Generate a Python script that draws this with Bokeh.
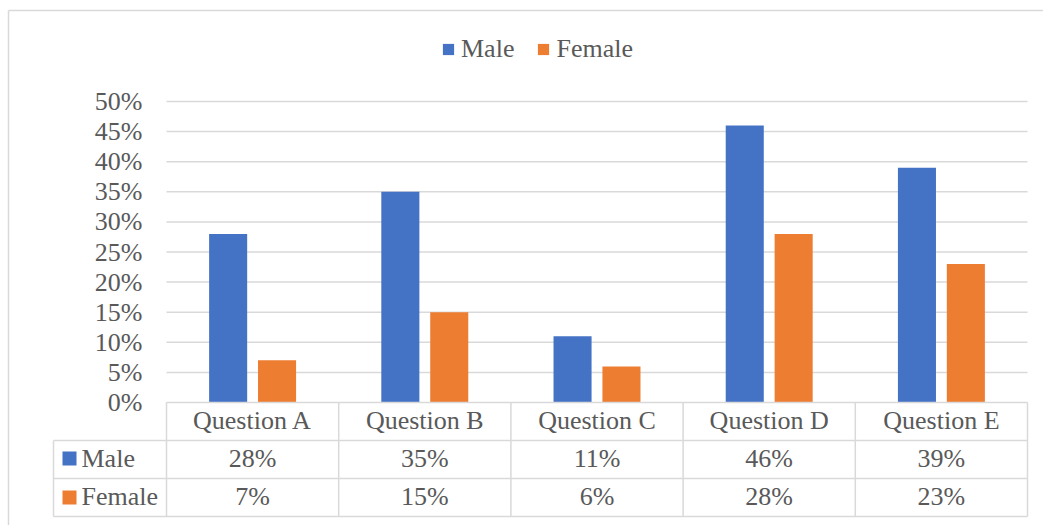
from bokeh.plotting import figure
from bokeh.models import (LinearAxis, FixedTicker, PrintfTickFormatter,
                          ColumnDataSource, Range1d)
from bokeh.transform import dodge
from bokeh.core.properties import value
from bokeh.embed import file_html
from bokeh.resources import INLINE

# ---- data ----
categories = ["Question A", "Question B", "Question C", "Question D", "Question E"]
male = [28, 35, 11, 46, 39]
female = [7, 15, 6, 28, 23]
y_ticks = [0, 5, 10, 15, 20, 25, 30, 35, 40, 45, 50]
series_names = ["Male", "Female"]

# ---- style ----
BLUE = "#4472C4"
ORANGE = "#ED7D31"
GRID = "#d9d9d9"
TXT = "#595959"
FONT = "Liberation Serif"
FS = "26px"

W, H = 1043, 525
X0, XS = 252.1, 172.2    # pixel of first category centre, px per category
Y0, YS = 402.0, 6.02     # pixel of 0%, px per percent point


def dx(px):
    return (px - X0) / XS


def dy(py):
    return (Y0 - py) / YS


p = figure(width=W, height=H, title=None,
           x_range=Range1d(dx(0), dx(W)), y_range=Range1d(dy(H), dy(0)),
           x_axis_type=None, y_axis_type=None,
           toolbar_location=None, output_backend="svg",
           min_border=0, outline_line_color=None)

n = len(categories)
xs = list(range(n))

# outer border (top and left)
p.segment(x0=[dx(8), dx(8)], y0=[dy(10), dy(10)],
          x1=[dx(W), dx(8)], y1=[dy(10), dy(H)],
          line_color=GRID, line_width=1.5)

# horizontal gridlines
gt = [t for t in y_ticks if t > 0]
p.segment(x0=[-0.5] * len(gt), y0=gt, x1=[n - 0.5] * len(gt), y1=gt,
          line_color=GRID, line_width=1.5)

src = ColumnDataSource(dict(
    x=xs, cat=categories, male=male, female=female,
    male_lbl=[f"{v}%" for v in male], female_lbl=[f"{v}%" for v in female]))

p.vbar(x=dodge("x", -0.142, range=p.x_range), top="male", width=0.221,
       source=src, fill_color=BLUE, line_color=None, legend_label=series_names[0])
p.vbar(x=dodge("x", 0.142, range=p.x_range), top="female", width=0.221,
       source=src, fill_color=ORANGE, line_color=None, legend_label=series_names[1])

# data table lines
left_px = 53
row_px = [440, 478, 516]
hx0 = [-0.5] + [dx(left_px)] * 3
hx1 = [n - 0.5] * 4
hy = [0] + [dy(r) for r in row_px]
p.segment(x0=hx0, y0=hy, x1=hx1, y1=hy, line_color=GRID, line_width=1.5)
vx = [dx(left_px)] + [i - 0.5 for i in range(n + 1)]
vy0 = [dy(440)] + [0] * (n + 1)
vy1 = [dy(516)] * (n + 2)
p.segment(x0=vx, y0=vy0, x1=vx, y1=vy1, line_color=GRID, line_width=1.5)

# table values
p.text(x="x", y=dy(458), text="male_lbl", source=src, text_align="center",
       text_baseline="middle", text_font=value(FONT), text_font_size=FS,
       text_color=TXT)
p.text(x="x", y=dy(496), text="female_lbl", source=src, text_align="center",
       text_baseline="middle", text_font=value(FONT), text_font_size=FS,
       text_color=TXT)

# table row headers
p.scatter(x=[dx(69), dx(69)], y=[dy(458), dy(497)], marker="square", size=14,
          fill_color=[BLUE, ORANGE], line_color=None)
p.text(x=[dx(81), dx(81)], y=[dy(458), dy(496)], text=series_names,
       text_align="left", text_baseline="middle", text_font=value(FONT),
       text_font_size=FS, text_color=TXT)

# y axis
yax = LinearAxis(fixed_location=-0.5,
                 ticker=FixedTicker(ticks=y_ticks),
                 formatter=PrintfTickFormatter(format="%d%%"))
yax.axis_line_color = None
yax.major_tick_line_color = None
yax.minor_tick_line_color = None
yax.major_label_standoff = 18
yax.major_label_text_font = FONT
yax.major_label_text_font_size = FS
yax.major_label_text_color = TXT
p.add_layout(yax, "left")

# x axis (category labels, header row of the table)
xax = LinearAxis(fixed_location=dy(399), ticker=FixedTicker(ticks=xs),
                 major_label_overrides={i: c for i, c in enumerate(categories)})
xax.axis_line_color = None
xax.major_tick_line_color = None
xax.minor_tick_line_color = None
xax.major_label_standoff = 0
xax.major_label_text_font = FONT
xax.major_label_text_font_size = FS
xax.major_label_text_color = TXT
p.add_layout(xax, "below")

# legend
lg = p.legend[0]
lg.orientation = "horizontal"
lg.location = (441, H - 64)
lg.glyph_width = 14
lg.glyph_height = 14
lg.label_standoff = 6
lg.spacing = 22
lg.padding = 0
lg.margin = 0
lg.border_line_color = None
lg.background_fill_alpha = 0
lg.label_text_font = FONT
lg.label_text_font_size = FS
lg.label_text_color = TXT

open("out.html", "w").write(file_html(p, INLINE))
